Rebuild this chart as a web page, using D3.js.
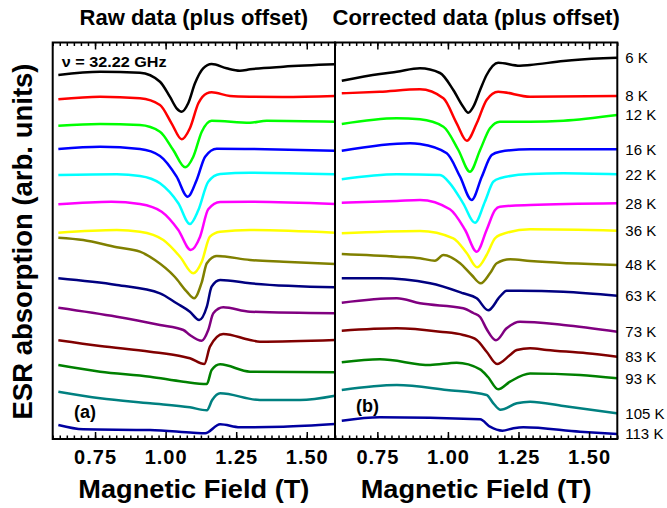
<!DOCTYPE html>
<html lang="en">
<head>
	<meta charset="UTF-8">
	<title>ESR spectra</title>
	<script src="https://cdn.jsdelivr.net/npm/d3@7"></script>
	<style>
		body{
			margin: 0px;
			background: #fff;
		}
		text{
			font-family: Arial, "Liberation Sans", sans-serif;
		}
	</style>
</head>
<body>
	<svg></svg>
	<script>
		// temperatures and line colours, top to bottom
		var temps = ["6 K", "8 K", "12 K", "16 K", "22 K", "28 K", "36 K", "48 K", "63 K", "73 K", "83 K", "93 K", "105 K", "113 K"];
		var colors = ["#000000", "#ff0000", "#00ff00", "#0000ff", "#00ffff", "#ff00ff", "#ffff00",
			"#808000", "#000080", "#800080", "#800000", "#008000", "#008080", "#0000a0"];

		// raw spectra (plus offset): [field (T), absorption (arb. units)]
		var raw6 = [[0.620,3.64],[0.768,3.673],[0.909,3.663],[0.980,3.573],[1.015,3.423],[1.039,3.307],[1.057,3.273],[1.080,3.357],[1.104,3.557],[1.133,3.707],[1.163,3.75],[1.216,3.707],[1.263,3.683],[1.299,3.697],[1.417,3.723],[1.600,3.747]];
		var raw8 = [[0.620,3.397],[0.768,3.423],[0.909,3.407],[0.980,3.34],[1.021,3.157],[1.057,2.997],[1.086,3.107],[1.116,3.357],[1.146,3.457],[1.163,3.467],[1.228,3.43],[1.299,3.423],[1.417,3.42],[1.600,3.43]];
		var raw12 = [[0.620,3.133],[0.768,3.15],[0.909,3.14],[0.980,3.073],[1.027,2.89],[1.069,2.717],[1.098,2.823],[1.128,3.073],[1.163,3.183],[1.299,3.163],[1.358,3.183],[1.600,3.173]];
		var raw16 = [[0.620,2.90],[0.768,2.923],[0.909,2.9],[0.980,2.83],[1.039,2.623],[1.078,2.423],[1.110,2.59],[1.140,2.823],[1.181,2.903],[1.299,2.9],[1.600,2.883]];
		var raw22 = [[0.620,2.64],[0.827,2.647],[0.909,2.63],[0.980,2.557],[1.045,2.357],[1.086,2.15],[1.116,2.29],[1.151,2.573],[1.193,2.65],[1.299,2.663],[1.600,2.647]];
		var raw28 = [[0.620,2.347],[0.808,2.373],[0.909,2.35],[0.986,2.273],[1.045,2.09],[1.089,1.89],[1.122,2.023],[1.151,2.297],[1.193,2.37],[1.299,2.373],[1.600,2.35]];
		var raw36 = [[0.620,2.063],[0.827,2.09],[0.909,2.073],[0.992,1.99],[1.051,1.823],[1.098,1.657],[1.128,1.773],[1.157,2.023],[1.193,2.073],[1.299,2.09],[1.600,2.063]];
		var raw48 = [[0.620,2.013],[0.708,1.99],[0.827,1.917],[0.909,1.873],[0.962,1.79],[1.033,1.62],[1.075,1.473],[1.101,1.407],[1.128,1.567],[1.146,1.757],[1.181,1.83],[1.299,1.79],[1.417,1.773],[1.600,1.75]];
		var raw63 = [[0.620,1.607],[0.827,1.54],[0.980,1.457],[1.039,1.357],[1.086,1.273],[1.119,1.19],[1.146,1.323],[1.163,1.523],[1.193,1.59],[1.299,1.557],[1.600,1.517]];
		var raw73 = [[0.620,1.313],[0.827,1.223],[0.980,1.14],[1.063,1.09],[1.086,1.04],[1.128,0.983],[1.151,1.09],[1.169,1.257],[1.204,1.317],[1.299,1.273],[1.600,1.257]];
		var raw83 = [[0.620,0.987],[0.768,0.93],[0.945,0.873],[1.063,0.823],[1.086,0.807],[1.137,0.75],[1.157,0.923],[1.204,1.05],[1.299,0.99],[1.334,0.973],[1.600,0.99]];
		var raw93 = [[0.620,0.74],[0.768,0.673],[0.945,0.623],[1.063,0.573],[1.146,0.55],[1.163,0.69],[1.193,0.747],[1.299,0.673],[1.600,0.667]];
		var raw105 = [[0.620,0.473],[0.768,0.407],[0.945,0.357],[1.086,0.317],[1.146,0.287],[1.165,0.39],[1.193,0.457],[1.334,0.39],[1.476,0.39],[1.600,0.433]];
		var raw113 = [[0.620,0.14],[0.708,0.097],[0.945,0.09],[1.098,0.063],[1.140,0.057],[1.193,0.147],[1.263,0.117],[1.417,0.123],[1.600,0.15]];

		// corrected spectra (plus offset)
		var cor6 = [[0.624,3.583],[0.759,3.65],[0.819,3.673],[0.901,3.707],[0.972,3.66],[1.019,3.49],[1.054,3.323],[1.072,3.263],[1.090,3.323],[1.114,3.49],[1.137,3.64],[1.178,3.763],[1.255,3.733],[1.291,3.74],[1.409,3.78],[1.550,3.807],[1.600,3.813]];
		var cor8 = [[0.624,3.457],[0.759,3.473],[0.901,3.497],[0.984,3.407],[1.031,3.157],[1.067,2.983],[1.102,3.157],[1.137,3.39],[1.178,3.473],[1.291,3.423],[1.600,3.43]];
		var cor12 = [[0.624,3.15],[0.819,3.207],[0.901,3.197],[0.984,3.123],[1.037,2.89],[1.078,2.673],[1.114,2.89],[1.149,3.107],[1.184,3.173],[1.291,3.173],[1.409,3.183],[1.600,3.24]];
		var cor16 = [[0.624,2.883],[0.866,2.957],[0.901,2.95],[0.996,2.857],[1.043,2.623],[1.084,2.39],[1.120,2.623],[1.155,2.84],[1.184,2.873],[1.291,2.897],[1.600,2.897]];
		var cor22 = [[0.624,2.597],[0.819,2.647],[0.972,2.64],[1.007,2.557],[1.054,2.357],[1.096,2.163],[1.131,2.373],[1.161,2.573],[1.184,2.607],[1.291,2.65],[1.409,2.657],[1.600,2.647]];
		var cor28 = [[0.624,2.363],[0.819,2.38],[0.901,2.39],[1.007,2.297],[1.061,2.09],[1.102,1.873],[1.137,2.09],[1.167,2.29],[1.184,2.323],[1.291,2.34],[1.600,2.357]];
		var cor36 = [[0.624,2.057],[0.901,2.08],[1.019,2.007],[1.067,1.857],[1.104,1.717],[1.137,1.84],[1.167,2.007],[1.184,2.04],[1.291,2.097],[1.600,2.083]];
		var cor48 = [[0.624,1.85],[0.819,1.823],[0.901,1.807],[0.954,1.783],[0.984,1.84],[1.043,1.757],[1.084,1.64],[1.116,1.557],[1.149,1.657],[1.173,1.757],[1.220,1.797],[1.291,1.78],[1.600,1.74]];
		var cor63 = [[0.624,1.607],[0.759,1.607],[0.937,1.557],[1.054,1.457],[1.102,1.407],[1.143,1.287],[1.184,1.423],[1.208,1.483],[1.255,1.483],[1.409,1.473],[1.600,1.433]];
		var cor73 = [[0.624,1.363],[0.819,1.407],[0.901,1.357],[1.054,1.307],[1.090,1.26],[1.114,1.22],[1.137,1.10],[1.170,0.987],[1.208,1.107],[1.255,1.173],[1.409,1.14],[1.600,1.073]];
		var cor83 = [[0.624,1.083],[0.819,1.107],[0.972,1.073],[1.054,1.04],[1.102,0.99],[1.137,0.873],[1.174,0.75],[1.220,0.84],[1.244,0.89],[1.291,0.907],[1.350,0.89],[1.492,0.857],[1.600,0.823]];
		var cor93 = [[0.624,0.767],[0.759,0.797],[0.937,0.74],[1.031,0.763],[1.114,0.697],[1.142,0.62],[1.178,0.497],[1.220,0.573],[1.291,0.655],[1.468,0.64],[1.600,0.607]];
		var cor105 = [[0.624,0.49],[0.819,0.54],[0.996,0.49],[1.137,0.44],[1.161,0.357],[1.186,0.293],[1.244,0.357],[1.291,0.373],[1.409,0.33],[1.600,0.257]];
		var cor113 = [[0.624,0.183],[0.759,0.217],[1.114,0.197],[1.149,0.123],[1.193,0.083],[1.232,0.107],[1.267,0.117],[1.468,0.073],[1.600,0.05]];

		var rawSeries = [raw6, raw8, raw12, raw16, raw22, raw28, raw36, raw48, raw63, raw73, raw83, raw93, raw105, raw113];
		var corSeries = [cor6, cor8, cor12, cor16, cor22, cor28, cor36, cor48, cor63, cor73, cor83, cor93, cor105, cor113];

		var majorTicks = [0.75, 1.00, 1.25, 1.50];
		var minorTicks = d3.range(0, 41).map(i => 0.6 + i * 0.025);

		var w = 667,
			h = 508,
			svg = d3.select("svg").attr("width", w).attr("height", h);

		var plotTop = 42.5, plotBottom = 439;
		var y = d3.scaleLinear().domain([0, 3.965]).range([plotBottom, plotTop]);

		var panels = [
			{ x0: 52.7, x1: 335, data: rawSeries, title: "Raw data (plus offset)", tag: "(a)", tagX: 74, tagY: 418 },
			{ x0: 335, x1: 617.3, data: corSeries, title: "Corrected data (plus offset)", tag: "(b)", tagX: 356, tagY: 412 }
		];

		panels.forEach((p, pi) => {
			var x = d3.scaleLinear().domain([0.6, 1.6]).range([p.x0, p.x1]);
			var g = svg.append("g");

			var line = d3.line()
				.x(d => x(d[0]))
				.y(d => y(d[1]))
				.curve(d3.curveMonotoneX);

			g.selectAll("path.spec")
				.data(p.data)
				.enter().append("path")
				.attr("class", "spec")
				.attr("d", line)
				.attr("fill", "none")
				.attr("stroke", (d, i) => colors[i])
				.attr("stroke-width", 2.5)
				.attr("stroke-linejoin", "round");

			// bottom axis: major with labels, minor without
			var bMajor = g.append("g").attr("transform", "translate(0," + plotBottom + ")")
				.call(d3.axisBottom(x).tickValues(majorTicks).tickFormat(d3.format(".2f"))
					.tickSizeInner(-7).tickSizeOuter(0).tickPadding(11));
			bMajor.selectAll("text")
				.attr("font-size", 20).attr("font-weight", "bold")
				.attr("letter-spacing", 1).attr("fill", "#000")
				.style("font-family", "Arial, 'Liberation Sans', sans-serif");
			g.append("g").attr("transform", "translate(0," + plotBottom + ")")
				.call(d3.axisBottom(x).tickValues(minorTicks).tickFormat("").tickSizeInner(-3.5).tickSizeOuter(0));

			// top axis mirrors the ticks
			g.append("g").attr("transform", "translate(0," + plotTop + ")")
				.call(d3.axisTop(x).tickValues(majorTicks).tickFormat("").tickSizeInner(-7).tickSizeOuter(0));
			g.append("g").attr("transform", "translate(0," + plotTop + ")")
				.call(d3.axisTop(x).tickValues(minorTicks).tickFormat("").tickSizeInner(-3.5).tickSizeOuter(0));

			g.selectAll(".domain").remove();
			g.selectAll(".tick line").attr("stroke", "#000").attr("stroke-width", 1.5);

			g.append("rect")
				.attr("x", p.x0).attr("y", plotTop)
				.attr("width", p.x1 - p.x0).attr("height", plotBottom - plotTop)
				.attr("fill", "none").attr("stroke", "#000").attr("stroke-width", 2);

			g.append("text")
				.attr("x", (p.x0 + p.x1) / 2).attr("y", 25)
				.attr("text-anchor", "middle")
				.attr("font-size", 22).attr("font-weight", "bold")
				.text(p.title);

			g.append("text")
				.attr("x", (p.x0 + p.x1) / 2).attr("y", 498)
				.attr("text-anchor", "middle")
				.attr("font-size", 26).attr("font-weight", "bold")
				.attr("textLength", 231).attr("lengthAdjust", "spacingAndGlyphs")
				.text("Magnetic Field (T)");

			g.append("text")
				.attr("x", p.tagX).attr("y", p.tagY)
				.attr("font-size", 18).attr("font-weight", "bold")
				.text(p.tag);

			if (pi === 1) {
				// temperature labels next to the right end of each corrected curve
				svg.selectAll("text.temp")
					.data(p.data)
					.enter().append("text")
					.attr("class", "temp")
					.attr("x", p.x1 + 8)
					.attr("y", d => y(d[d.length - 1][1]))
					.attr("dy", "0.36em")
					.attr("font-size", 15)
					.text((d, i) => temps[i]);
			}
		});

		svg.append("text")
			.attr("x", 61.7).attr("y", 66.7)
			.attr("font-size", 14).attr("font-weight", "bold")
			.attr("textLength", 105).attr("lengthAdjust", "spacingAndGlyphs")
			.text("\u03bd = 32.22 GHz");

		svg.append("text")
			.attr("transform", "translate(32,241.5) rotate(-90)")
			.attr("text-anchor", "middle")
			.attr("font-size", 27.5).attr("font-weight", "bold")
			.text("ESR absorption (arb. units)");
	</script>
</body>
</html>
